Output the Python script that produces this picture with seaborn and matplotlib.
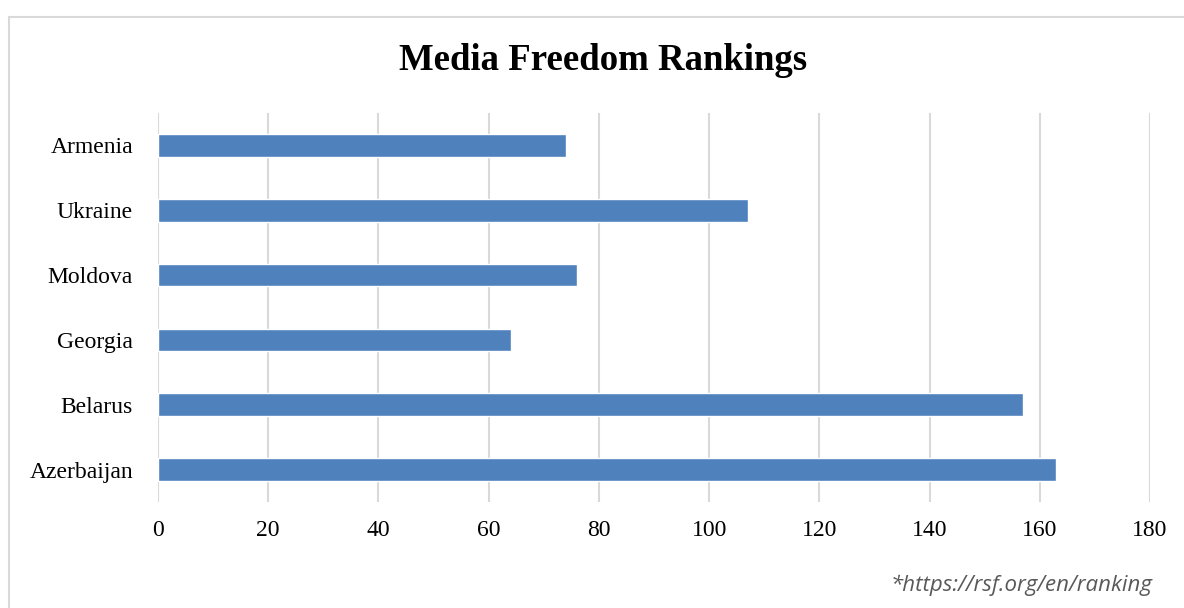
import pandas as pd
import seaborn as sns
import matplotlib.pyplot as plt
from matplotlib.patches import Rectangle

# data
countries = ['Armenia', 'Ukraine', 'Moldova', 'Georgia', 'Belarus', 'Azerbaijan']
ranks = [74, 107, 76, 64, 157, 163]
xticks = [0, 20, 40, 60, 80, 100, 120, 140, 160, 180]

df = pd.DataFrame({'Country': countries, 'Rank': ranks})

sns.set_theme(style='white')
plt.rcParams['font.family'] = ['Liberation Serif', 'DejaVu Serif']

W, H = 1184, 608
fig = plt.figure(figsize=(W / 100, H / 100), dpi=100)
ax = fig.add_axes([158 / W, 1 - 502 / H, (1150 - 158) / W, (502 - 113) / H])

sns.barplot(data=df, x='Rank', y='Country', orient='h', color='#4f81bd',
            saturation=1, width=0.35, ax=ax, zorder=3)

ax.set_xlim(0, 180)
ax.set_ylim(5.5, -0.5)
ax.set_xticks(xticks)
ax.xaxis.grid(True, color='#d9d9d9', linewidth=1.5, zorder=0)
ax.yaxis.grid(False)
for s in ax.spines.values():
    s.set_visible(False)
ax.tick_params(axis='both', length=0, labelsize=17, colors='black')
ax.tick_params(axis='x', pad=13)
ax.tick_params(axis='y', pad=18)
ax.set_xlabel('')
ax.set_ylabel('')

fig.text(603 / W, 1 - 61 / H, 'Media Freedom Rankings', ha='center', va='center',
         fontsize=26.5, fontweight='bold', color='black')
fig.text(1153 / W, 1 - 585 / H, '*https://rsf.org/en/ranking', ha='right', va='center',
         fontsize=16, style='italic', color='#595959', family=['Open Sans', 'DejaVu Sans'])

fig.patches.append(Rectangle((8.5 / W, -0.1), 1.1, 1 - 16.5 / H + 0.1,
                             transform=fig.transFigure, fill=False,
                             edgecolor='#d9d9d9', linewidth=1.5))

fig.savefig('out.png', dpi=100)
